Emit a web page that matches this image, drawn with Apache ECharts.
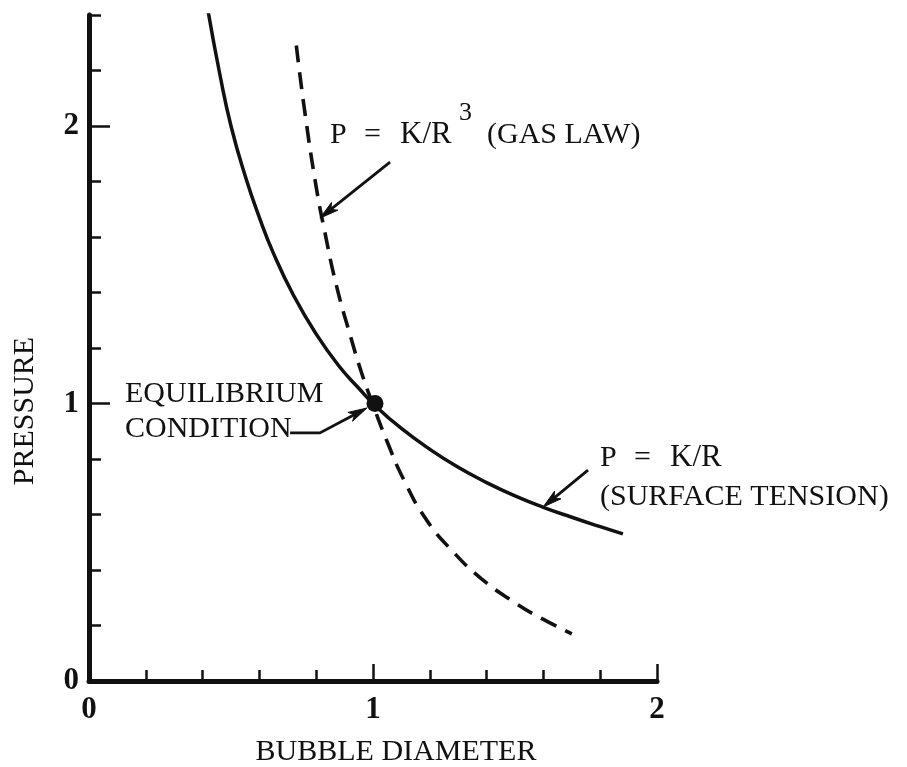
<!DOCTYPE html>
<html>
<head>
<meta charset="utf-8">
<script src="https://cdn.jsdelivr.net/npm/echarts@6/dist/echarts.min.js"></script>
<style>
html,body{margin:0;padding:0;background:#fff;}
#chart{width:907px;height:767px;}
</style>
</head>
<body>
<div id="chart"></div>
<script>
// ---- data ----
const surfaceX = [0.42, 0.46, 0.50, 0.55, 0.60, 0.65, 0.72, 0.80, 0.88, 0.95, 1.01, 1.10, 1.20, 1.30, 1.40, 1.50, 1.60, 1.70, 1.80, 1.88];
const surfaceP = [2.41, 2.19, 2.00, 1.82, 1.67, 1.54, 1.39, 1.25, 1.135, 1.055, 0.99, 0.91, 0.835, 0.77, 0.715, 0.667, 0.626, 0.59, 0.556, 0.53];
const gasX = [0.73, 0.76, 0.80, 0.83, 0.87, 0.92, 0.96, 1.00, 1.05, 1.11, 1.19, 1.28, 1.38, 1.50, 1.60, 1.70];
const gasP = [2.29, 2.05, 1.78, 1.62, 1.43, 1.245, 1.11, 0.995, 0.862, 0.722, 0.578, 0.468, 0.37, 0.282, 0.222, 0.17];
const equilibriumX = [1.007];
const equilibriumP = [1.0];
const xTickLabels = [0, 1, 2];
const yTickLabels = [0, 1, 2];
const majorTicks = [1, 2];
// annotation arrows (data coordinates, last point is the tip)
const arrowGas = [[1.06, 1.87], [0.813, 1.668]];
const arrowCondition = [[0.708, 0.894], [0.813, 0.894], [0.979, 0.984]];
const arrowSurface = [[1.757, 0.760], [1.599, 0.627]];

const arrows = [arrowGas, arrowCondition, arrowSurface];
const FONT = '"Liberation Serif", "DejaVu Serif", serif';
const INK = '#111';

const chart = echarts.init(document.getElementById('chart'), null, {renderer: 'canvas'});

function zip(xs, ys) { return xs.map((x, i) => [x, ys[i]]); }

function txt(s, x, y, size, align) {
  return {type: 'text', x: x, y: y,
    style: {text: s, font: size + 'px ' + FONT, fill: INK, align: align || 'left', verticalAlign: 'middle'}};
}

const option = {
  backgroundColor: '#fff',
  animation: false,
  grid: {left: 89, right: 250, top: 15, bottom: 86, containLabel: false},
  xAxis: [
    {
      type: 'value', min: 0, max: 2, interval: 0.2,
      axisLine: {show: true, onZero: false, lineStyle: {color: INK, width: 5}},
      axisTick: {show: true, inside: true, length: 11, lineStyle: {color: INK, width: 2.5}},
      axisLabel: {customValues: xTickLabels, margin: 13, fontFamily: FONT, fontSize: 31, fontWeight: 'bold', color: INK},
      splitLine: {show: false}
    },
    {
      type: 'value', min: 0, max: 2, position: 'bottom',
      axisLine: {show: false},
      axisTick: {show: true, inside: true, customValues: majorTicks, length: 17, lineStyle: {color: INK, width: 2.5}},
      axisLabel: {show: false},
      splitLine: {show: false}
    }
  ],
  yAxis: [
    {
      type: 'value', min: 0, max: 2.4, interval: 0.2,
      axisLine: {show: true, onZero: false, lineStyle: {color: INK, width: 5}},
      axisTick: {show: true, inside: true, length: 12, lineStyle: {color: INK, width: 2.5}},
      axisLabel: {customValues: yTickLabels, margin: 10, fontFamily: FONT, fontSize: 31, fontWeight: 'bold', color: INK},
      splitLine: {show: false}
    },
    {
      type: 'value', min: 0, max: 2.4, position: 'left',
      axisLine: {show: false},
      axisTick: {show: true, inside: true, customValues: majorTicks, length: 21, lineStyle: {color: INK, width: 2.5}},
      axisLabel: {show: false},
      splitLine: {show: false}
    }
  ],
  series: [
    {
      name: 'P = K/R (surface tension)', type: 'line', smooth: true, showSymbol: false,
      data: zip(surfaceX, surfaceP),
      lineStyle: {color: INK, width: 3.5}, z: 3
    },
    {
      name: 'P = K/R^3 (gas law)', type: 'line', smooth: true, showSymbol: false,
      data: zip(gasX, gasP),
      lineStyle: {color: INK, width: 3.6, type: [17, 10]}, z: 3
    },
    {
      name: 'Equilibrium', type: 'scatter', symbol: 'circle', symbolSize: 17,
      data: zip(equilibriumX, equilibriumP),
      itemStyle: {color: INK, opacity: 1}, z: 5
    },
    {
      name: 'arrows', type: 'custom', clip: false, z: 4,
      data: arrows.map(a => a[a.length - 1]),
      encode: {x: 0, y: 1},
      renderItem: function (params, api) {
        const a = arrows[params.dataIndex];
        const pts = a.map(p => api.coord(p));
        const n = pts.length;
        const tip = pts[n - 1], prev = pts[n - 2];
        const dx = tip[0] - prev[0], dy = tip[1] - prev[1];
        const L = Math.hypot(dx, dy);
        const ux = dx / L, uy = dy / L, px = -uy, py = ux;
        const hl = 19, hw = 5, notch = 14;
        const b = [tip[0] - ux * hl, tip[1] - uy * hl];
        const left = [b[0] + px * hw, b[1] + py * hw];
        const right = [b[0] - px * hw, b[1] - py * hw];
        const nb = [tip[0] - ux * notch, tip[1] - uy * notch];
        const linePts = pts.slice(0, n - 1).concat([nb]);
        return {
          type: 'group',
          children: [
            {type: 'polyline', shape: {points: linePts}, style: {stroke: INK, lineWidth: 2.8, fill: null}},
            {type: 'polygon', shape: {points: [tip, left, nb, right]}, style: {fill: INK, stroke: INK, lineWidth: 1}}
          ]
        };
      }
    }
  ],
  graphic: [
    {type: 'text', x: 25, y: 411, rotation: Math.PI / 2,
     style: {text: 'PRESSURE', font: '30px ' + FONT, fill: INK, align: 'center', verticalAlign: 'middle'}},
    txt('BUBBLE DIAMETER', 396, 752, 30, 'center'),
    txt('P', 330, 135, 30),
    txt('=', 364, 135, 30),
    txt('K/R', 400, 135, 31),
    txt('3', 459, 113, 26),
    txt('(GAS LAW)', 487, 135, 30),
    txt('EQUILIBRIUM', 125, 394, 30),
    txt('CONDITION', 125, 429, 30),
    txt('P', 600, 458, 30),
    txt('=', 634, 458, 30),
    txt('K/R', 670, 458, 31),
    txt('(SURFACE TENSION)', 600, 497, 30)
  ]
};
chart.setOption(option);
</script>
</body>
</html>
